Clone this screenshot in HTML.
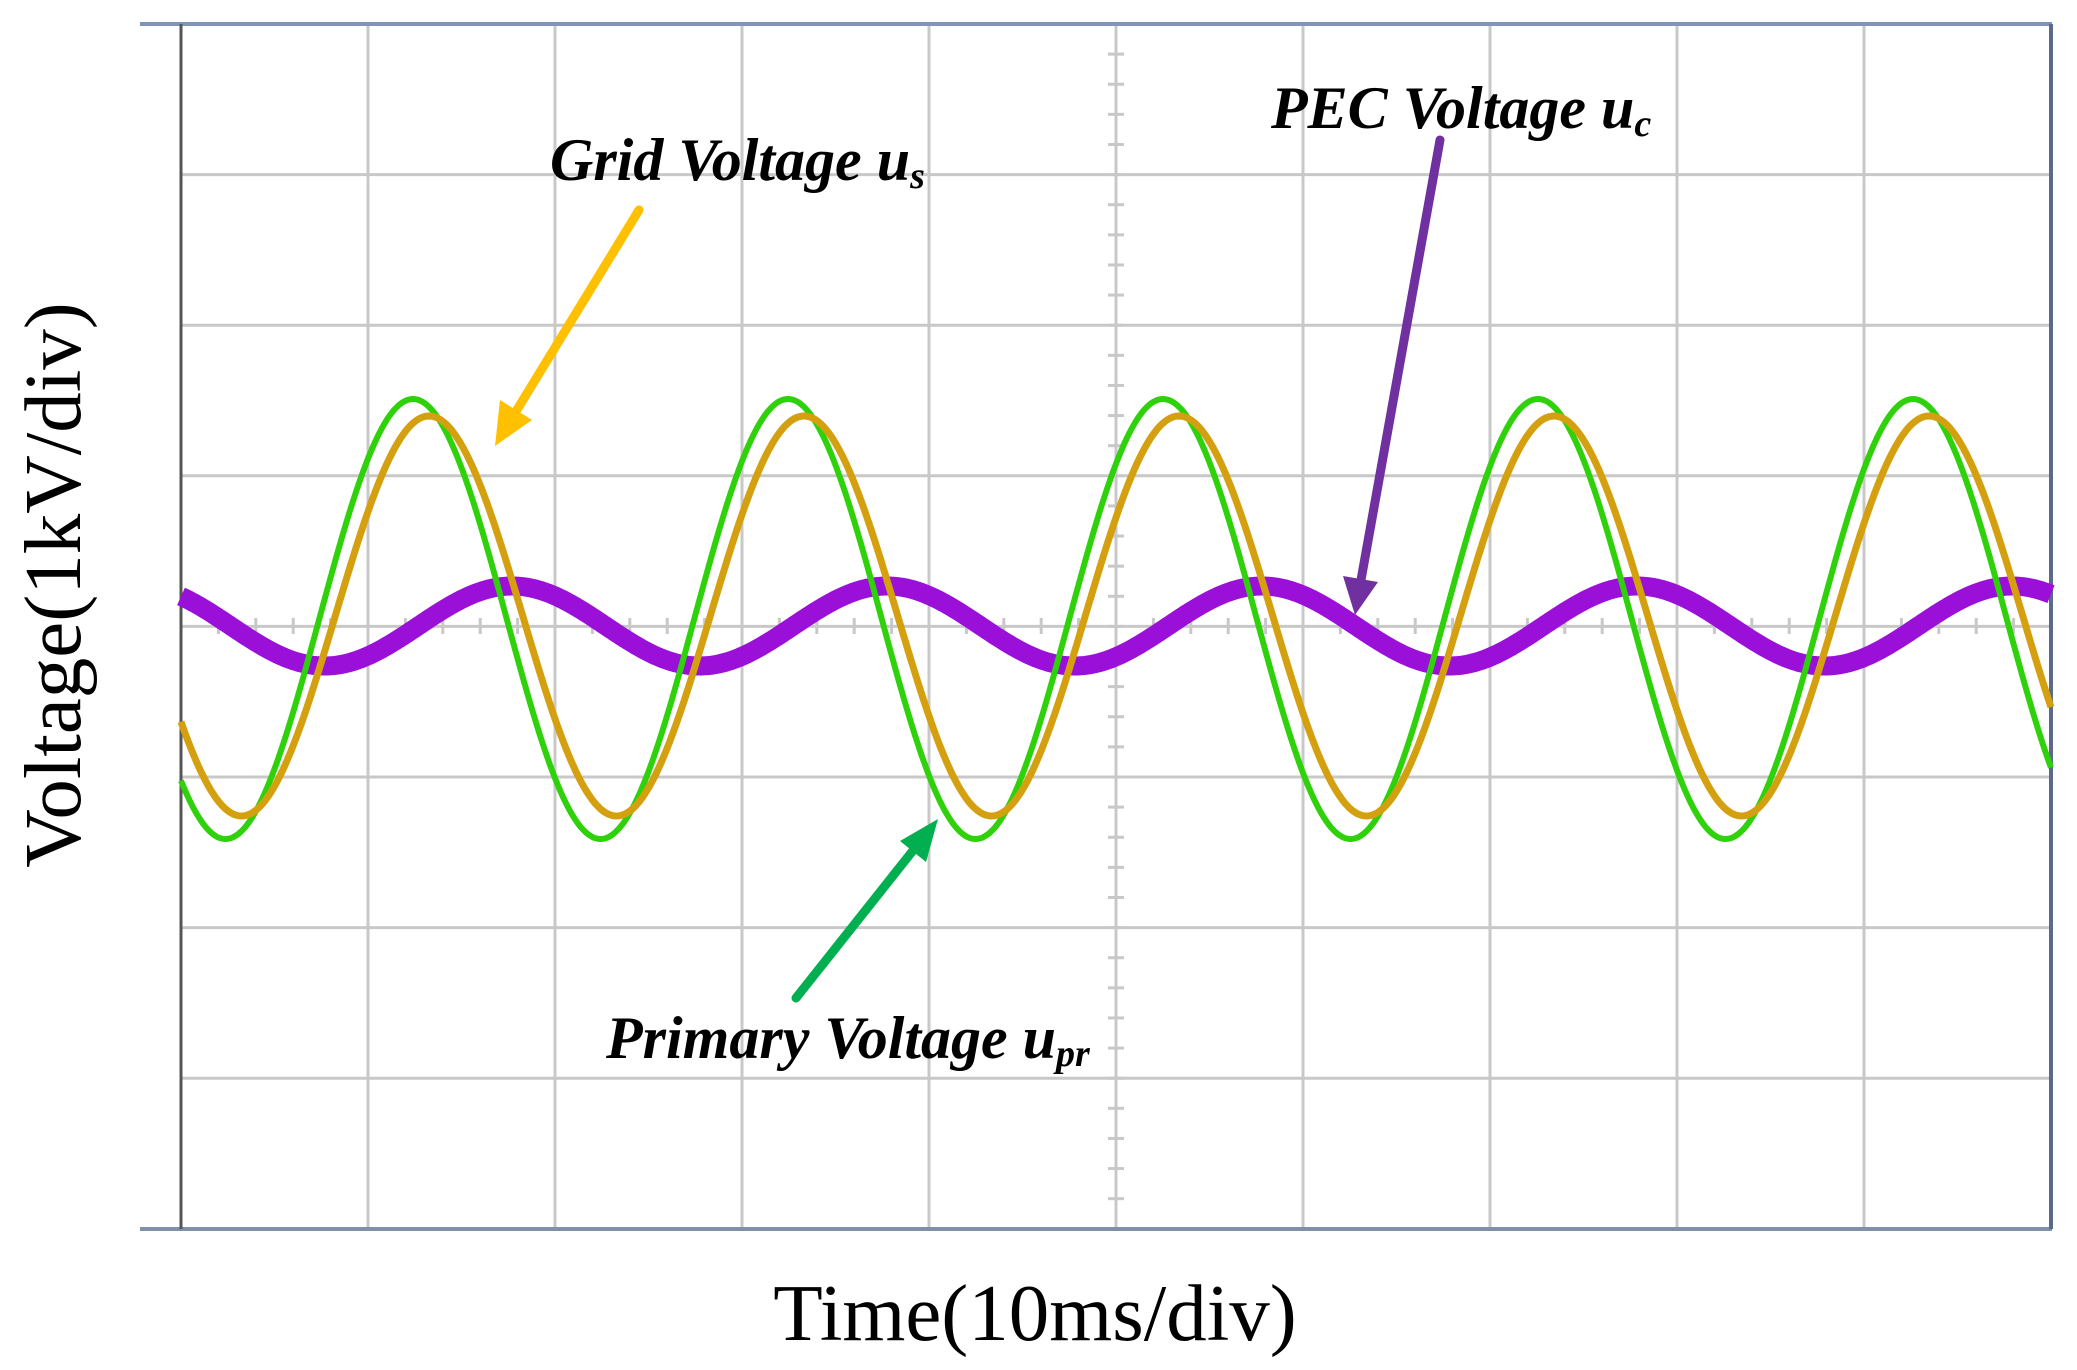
<!DOCTYPE html>
<html><head><meta charset="utf-8"><style>
html,body{margin:0;padding:0;background:#fff;width:2077px;height:1370px;overflow:hidden}
svg{display:block}
.lab{font-family:"Liberation Serif",serif;font-weight:bold;font-style:italic;font-size:60px;fill:#000}
.ax{font-family:"Liberation Serif",serif;font-size:81px;fill:#000}
</style></head><body>
<svg id="s" width="2077" height="1370" viewBox="0 0 2077 1370" xmlns="http://www.w3.org/2000/svg">
<rect width="2077" height="1370" fill="#fff"/>
<g id="grid" stroke="#c8c8c8" stroke-width="3"></g>
<line x1="140" y1="24" x2="2052" y2="24" stroke="#7f96b8" stroke-width="4"/>
<line x1="140" y1="1229" x2="2052" y2="1229" stroke="#8090a8" stroke-width="4"/>
<line x1="181" y1="24" x2="181" y2="1229" stroke="#555" stroke-width="3"/>
<line x1="2051" y1="24" x2="2051" y2="1229" stroke="#5a6a88" stroke-width="4"/>
<g id="sig"></g>
<g stroke-linecap="round">
<line x1="639" y1="210" x2="515" y2="413" stroke="#FFC000" stroke-width="9"/>
<polygon points="495,446 500,400 532,420" fill="#FFC000"/>
<line x1="1440" y1="140" x2="1361" y2="580" stroke="#7030A0" stroke-width="9"/>
<polygon points="1355,615 1343,576 1378,582" fill="#7030A0"/>
<line x1="796" y1="998" x2="915" y2="848" stroke="#00B050" stroke-width="9"/>
<polygon points="938,819 926,862 900,841" fill="#00B050"/>
</g>
<text class="lab" x="550" y="180">Grid Voltage u<tspan font-size="38" dy="8">s</tspan></text>
<text class="lab" x="1271" y="128">PEC Voltage u<tspan font-size="38" dy="8">c</tspan></text>
<text class="lab" x="606" y="1058">Primary Voltage u<tspan font-size="38" dy="8">pr</tspan></text>
<text class="ax" x="1035" y="1340" text-anchor="middle">Time(10ms/div)</text>
<text class="ax" transform="translate(80,585) rotate(-90)" text-anchor="middle">Voltage(1kV/div)</text>
</svg>
<script>
var NS="http://www.w3.org/2000/svg",g=document.getElementById('grid'),sg=document.getElementById('sig');
function ln(p,a){var e=document.createElementNS(NS,'line');for(var k in a)e.setAttribute(k,a[k]);p.appendChild(e);}
for(var i=1;i<10;i++){var x=181+i*187;ln(g,{x1:x,y1:24,x2:x,y2:1229});}
for(var j=1;j<8;j++){var y=24+j*150.6;ln(g,{x1:181,y1:y,x2:2051,y2:y});}
for(var i=0;i<50;i++){var x=181+i*37.4;ln(g,{x1:x,y1:618,x2:x,y2:634});}
for(var j=0;j<40;j++){var y=24+j*30.12;ln(g,{x1:1108,y1:y,x2:1124,y2:y});}
function wave(c,amp,ph,col,w){var d='';for(var x=181;x<=2051;x+=2){var y=c-amp*Math.cos(2*Math.PI*(x-ph)/375);d+=(x==181?'M':'L')+x+','+y.toFixed(1);}
var p=document.createElementNS(NS,'path');p.setAttribute('d',d);p.setAttribute('fill','none');p.setAttribute('stroke',col);p.setAttribute('stroke-width',w);sg.appendChild(p);}
wave(626,40,512,'#9a10d8',19);
wave(619,220,413,'#2ed10a',6);
wave(616,200,429,'#d4a010',7);
</script>
</body></html>
